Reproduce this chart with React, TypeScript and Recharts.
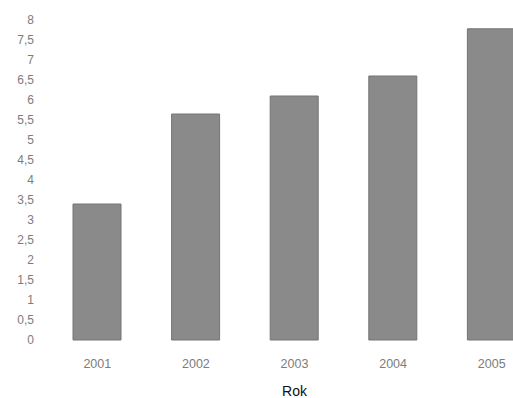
import React from 'react';
import { BarChart, Bar, XAxis, YAxis } from 'recharts';

const years = ['2001', '2002', '2003', '2004', '2005'];
const values = [3.4, 5.65, 6.1, 6.6, 7.78];
const yTicks = [0, 0.5, 1, 1.5, 2, 2.5, 3, 3.5, 4, 4.5, 5, 5.5, 6, 6.5, 7, 7.5, 8];

const data = years.map((y, i) => ({ year: y, value: values[i] }));

const fmt = (v: number) => String(v).replace('.', ',');

export default function App() {
  return (
    <div style={{ position: 'absolute', left: 0, top: 0, width: 513, height: 398, overflow: 'hidden', background: '#fff' }}>
      <BarChart
        width={541}
        height={398}
        data={data}
        margin={{ top: 20, right: 0, bottom: 0, left: 0 }}
        style={{ fontFamily: '"Liberation Sans", Arial, sans-serif' }}
      >
        <XAxis
          dataKey="year"
          axisLine={false}
          tickLine={false}
          height={58}
          tickMargin={13}
          tick={{ fill: '#7c7c7c', fontSize: 12.5 }}
          label={{ value: 'Rok', position: 'insideBottom', offset: 2, fill: '#111', fontSize: 14 }}
        />
        <YAxis
          domain={[0, 8]}
          ticks={yTicks}
          interval={0}
          axisLine={false}
          tickLine={false}
          width={48}
          tickMargin={8}
          tickFormatter={fmt}
          tick={{ fill: '#7c7c7c', fontSize: 12 }}
        />
        <Bar dataKey="value" fill="#8a8a8a" stroke="#747474" strokeWidth={1} barSize={48} isAnimationActive={false} />
      </BarChart>
    </div>
  );
}
